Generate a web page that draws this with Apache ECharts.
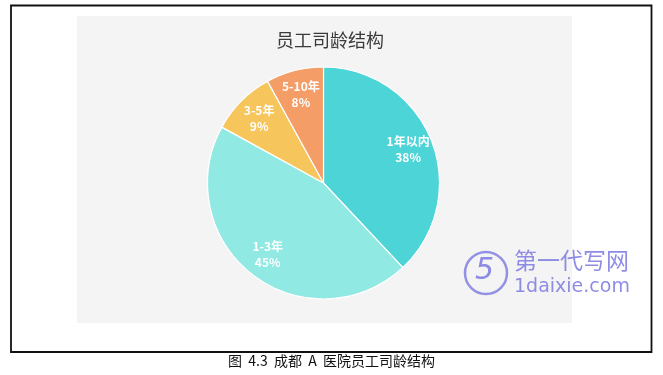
<!DOCTYPE html>
<html>
<head>
<meta charset="utf-8">
<script src="https://cdn.jsdelivr.net/npm/echarts@6/dist/echarts.min.js"></script>
<style>
  html, body { margin: 0; padding: 0; background: #fff; }
  #chart { width: 663px; height: 375px; }
</style>
</head>
<body>
<div id="chart"></div>
<script>
// Staff tenure groups and their shares (%)
const categories = ['1年以内', '1-3年', '3-5年', '5-10年'];
const shares = [38, 45, 9, 8];
const sliceColors = ['#4cd4d6', '#90e9e2', '#f6c55c', '#f59d67'];
const chartTitle = '员工司龄结构';
const caption = '图  4.3  成都  A  医院员工司龄结构';

const pieData = categories.map((name, i) => ({
  name: name,
  value: shares[i],
  itemStyle: { color: sliceColors[i] }
}));

const chart = echarts.init(document.getElementById('chart'), null, { renderer: 'canvas' });

chart.setOption({
  backgroundColor: '#ffffff',
  animation: false,
  title: {
    text: chartTitle,
    left: 325,
    top: 26,
    textAlign: 'center',
    textStyle: {
      fontFamily: 'Noto Sans CJK SC',
      fontSize: 18,
      fontWeight: 'normal',
      color: '#3a3a3a'
    }
  },
  graphic: [
    // outer frame
    {
      type: 'rect', z: -10, silent: true,
      shape: { x: 11, y: 5.5, width: 640.5, height: 346.5 },
      style: { fill: '#ffffff', stroke: '#111', lineWidth: 1.8 }
    },
    // chart panel
    {
      type: 'rect', z: -9, silent: true,
      shape: { x: 77, y: 16, width: 495, height: 307 },
      style: { fill: '#f4f4f4' }
    },
    // figure caption
    {
      type: 'text', silent: true,
      left: 'center', top: 354,
      style: {
        text: caption,
        fontFamily: 'Noto Sans CJK SC',
        fontSize: 14,
        fill: '#111'
      }
    },
    // site mark
    {
      type: 'circle', silent: true, z: 5,
      shape: { cx: 486, cy: 273, r: 21 },
      style: { fill: 'none', stroke: '#7a78e0', lineWidth: 2.5, opacity: 0.8 }
    },
    {
      type: 'text', silent: true, z: 5,
      left: 475, top: 256,
      style: {
        text: '5', fontFamily: 'DejaVu Sans', fontSize: 30, fontStyle: 'italic',
        fill: '#7a78e0', opacity: 0.85
      }
    },
    {
      type: 'text', silent: true, z: 5,
      left: 514, top: 249,
      style: {
        text: '第一代写网', fontFamily: 'Noto Sans CJK SC', fontSize: 23,
        fill: '#7a78e0', opacity: 0.85
      }
    },
    {
      type: 'text', silent: true, z: 5,
      left: 514, top: 278,
      style: {
        text: '1daixie.com', fontFamily: 'DejaVu Sans', fontSize: 19,
        fill: '#7a78e0', opacity: 0.85
      }
    }
  ],
  series: [
    {
      type: 'pie',
      center: [323.5, 183],
      radius: [0, 116],
      startAngle: 90,
      clockwise: true,
      silent: true,
      label: { show: false },
      labelLine: { show: false },
      itemStyle: { borderColor: '#ffffff', borderWidth: 1.2 },
      data: pieData
    },
    // transparent ring that only carries the slice labels
    {
      type: 'pie',
      center: [323.5, 183],
      radius: [60, 116],
      startAngle: 90,
      clockwise: true,
      silent: true,
      z: 3,
      itemStyle: { color: 'rgba(0,0,0,0)', borderWidth: 0 },
      label: {
        show: true,
        position: 'inside',
        formatter: '{b}\n{c}%',
        color: '#ffffff',
        fontFamily: 'Noto Sans CJK SC',
        fontSize: 12,
        fontWeight: 'bold',
        lineHeight: 16,
        align: 'center'
      },
      labelLine: { show: false },
      data: categories.map((name, i) => ({ name: name, value: shares[i] }))
    }
  ]
});
</script>
</body>
</html>
